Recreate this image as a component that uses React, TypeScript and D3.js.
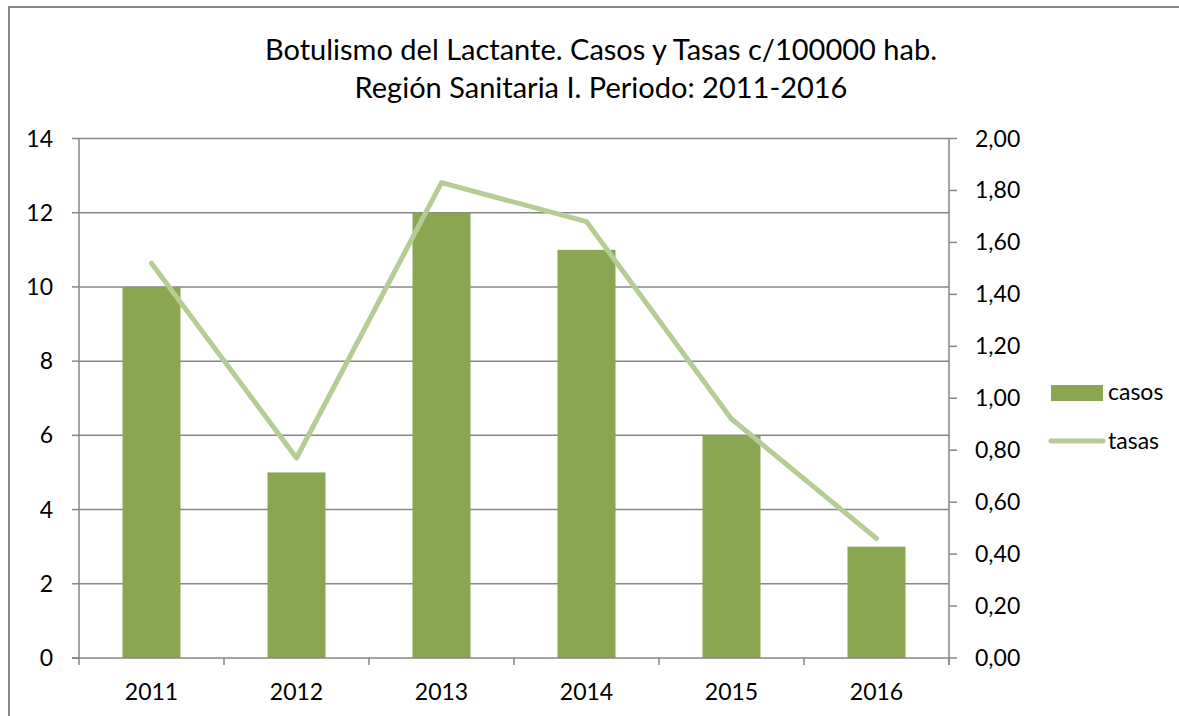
import React from "react";
import * as d3 from "d3";

const years = ["2011", "2012", "2013", "2014", "2015", "2016"];
const casos = [10, 5, 12, 11, 6, 3];
const tasas = [1.52, 0.77, 1.83, 1.68, 0.92, 0.46];
const leftTicks = [0, 2, 4, 6, 8, 10, 12, 14];
const rightTicks = [0, 0.2, 0.4, 0.6, 0.8, 1.0, 1.2, 1.4, 1.6, 1.8, 2.0];
const titleLines = [
  "Botulismo del Lactante. Casos y Tasas c/100000 hab.",
  "Región Sanitaria I. Periodo: 2011-2016",
];

const W = 1179;
const H = 716;
const L = 79, R = 949, T = 138.5, B = 658;
const FONT = "Lato, 'Open Sans', sans-serif";
const AXIS = "#868686";
const BAR = "#8BA650";
const LINE = "#B5CD94";

export default function App() {
  const x = d3.scaleBand().domain(years).range([L, R]).paddingInner(0.6).paddingOuter(0.3);
  const xc = (d: string) => (x(d) as number) + x.bandwidth() / 2;
  const yL = d3.scaleLinear().domain([0, 14]).range([B, T]);
  const yR = d3.scaleLinear().domain([0, 2]).range([B, T]);
  const step = (R - L) / years.length;
  const line = d3.line<number>().x((_, i) => xc(years[i])).y((d) => yR(d));

  return (
    <svg width={W} height={H} style={{ position: "absolute", left: 0, top: 0, background: "#fff" }}>
      <rect x={9} y={7} width={W + 20} height={H + 20} fill="#fff" stroke={AXIS} strokeWidth={2} />
      {titleLines.map((t, i) => (
        <text key={i} x={601} y={60 + i * 38} textAnchor="middle" fontFamily={FONT} fontSize={29} fill="#000">
          {t}
        </text>
      ))}
      {leftTicks.filter((v) => v > 0).map((v) => (
        <line key={v} x1={L} x2={R} y1={yL(v)} y2={yL(v)} stroke={AXIS} strokeWidth={1.5} />
      ))}
      {casos.map((v, i) => (
        <rect key={i} x={x(years[i])} y={yL(v)} width={x.bandwidth()} height={B - yL(v)} fill={BAR} />
      ))}
      {/* left axis */}
      <line x1={L} x2={L} y1={T} y2={B} stroke={AXIS} strokeWidth={1.5} />
      {leftTicks.map((v) => (
        <g key={v}>
          <line x1={L - 7} x2={L} y1={yL(v)} y2={yL(v)} stroke={AXIS} strokeWidth={1.5} />
          <text x={53} y={yL(v) + 8} textAnchor="end" fontFamily={FONT} fontSize={23} fill="#000">
            {v}
          </text>
        </g>
      ))}
      {/* right axis */}
      <line x1={R} x2={R} y1={T} y2={B + 7} stroke={AXIS} strokeWidth={1.5} />
      {rightTicks.map((v) => (
        <g key={v}>
          <line x1={R} x2={R + 8} y1={yR(v)} y2={yR(v)} stroke={AXIS} strokeWidth={1.5} />
          <text x={975} y={yR(v) + 8} fontFamily={FONT} fontSize={23} fill="#000">
            {v.toFixed(2).replace(".", ",")}
          </text>
        </g>
      ))}
      {/* bottom axis */}
      <line x1={L - 7} x2={R} y1={B} y2={B} stroke={AXIS} strokeWidth={1.5} />
      {d3.range(years.length + 1).map((i) => (
        <line key={i} x1={L + i * step} x2={L + i * step} y1={B} y2={B + 7} stroke={AXIS} strokeWidth={1.5} />
      ))}
      {years.map((d) => (
        <text key={d} x={xc(d)} y={700} textAnchor="middle" fontFamily={FONT} fontSize={23} fill="#000">
          {d}
        </text>
      ))}
      <path d={line(tasas) as string} fill="none" stroke={LINE} strokeWidth={5} strokeLinecap="round" strokeLinejoin="round" />
      {/* legend */}
      <rect x={1051} y={385} width={52} height={16} fill={BAR} />
      <text x={1108} y={400} fontFamily={FONT} fontSize={23} fill="#000">casos</text>
      <line x1={1051} x2={1103} y1={441} y2={441} stroke={LINE} strokeWidth={5} strokeLinecap="round" />
      <text x={1108} y={449} fontFamily={FONT} fontSize={23} fill="#000">tasas</text>
    </svg>
  );
}
